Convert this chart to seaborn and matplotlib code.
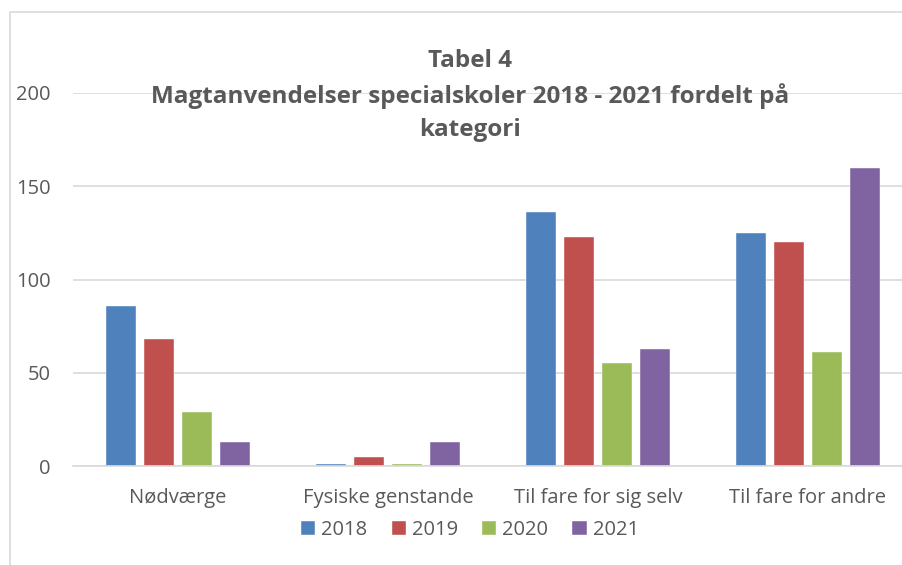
import numpy as np
import pandas as pd
import matplotlib.pyplot as plt
import seaborn as sns
from matplotlib.patches import Rectangle

# Data
categories = ['Nødværge', 'Fysiske genstande', 'Til fare for sig selv', 'Til fare for andre']
years = ['2018', '2019', '2020', '2021']
v2018 = [86, 1, 136, 125]
v2019 = [68, 5, 123, 120]
v2020 = [29, 1, 55, 61]
v2021 = [13, 13, 63, 160]
colors = ['#4F81BD', '#C0504D', '#9BBB59', '#8064A2']

df = pd.DataFrame({'kategori': categories * 4,
                   'år': np.repeat(years, 4),
                   'antal': v2018 + v2019 + v2020 + v2021})

sns.set_theme(style='white')
plt.rcParams['font.family'] = ['Open Sans', 'DejaVu Sans']
txt = '#595959'

fig = plt.figure(figsize=(9.03, 5.65), dpi=100)
# chart frame (clipped at right and bottom like in the screenshot)
fig.patches.append(Rectangle((10 / 903, -0.1), 1.2, 1 - 12 / 565 + 0.1,
                             transform=fig.transFigure, fill=False,
                             edgecolor='#D9D9D9', linewidth=1.2))

ax = fig.add_axes([73 / 903, 99 / 565, 1 - 73 / 903, (466 - 93) / 565])
sns.barplot(data=df, x='kategori', y='antal', hue='år', palette=colors,
            width=0.72, gap=0.2, ax=ax, legend=True, saturation=1,
            edgecolor='white', linewidth=0.3)

ax.set_ylim(0, 200)
ax.set_xlim(-0.5, (903 - 73) / 210 - 0.5)
ax.set_yticks([0, 50, 100, 150, 200])
ax.yaxis.grid(True, color='#D9D9D9', linewidth=1.2)
ax.set_axisbelow(True)
for s in ['top', 'right', 'left']:
    ax.spines[s].set_visible(False)
ax.spines['bottom'].set_color('#D9D9D9')
ax.spines['bottom'].set_linewidth(1.2)
ax.set_xlabel('')
ax.set_ylabel('')
ax.tick_params(axis='y', labelsize=14.5, labelcolor=txt, length=0, pad=16)
ax.tick_params(axis='x', labelsize=14.5, labelcolor=txt, length=0, pad=16)

fig.text(470 / 903, 1 - 49 / 565, 'Tabel 4\nMagtanvendelser specialskoler 2018 - 2021 fordelt på\nkategori',
         ha='center', va='top', fontsize=17.5, fontweight='bold', color=txt,
         linespacing=1.5, family=['Open Sans', 'DejaVu Sans'])

ax.legend(loc='center', bbox_to_anchor=(470 / 903, 1 - 530 / 565),
          bbox_transform=fig.transFigure, ncol=4, frameon=False,
          fontsize=14.5, labelcolor=txt, handlelength=0.7, handleheight=0.7,
          handletextpad=0.3, columnspacing=1.2)

fig.savefig('out.png', dpi=100)
